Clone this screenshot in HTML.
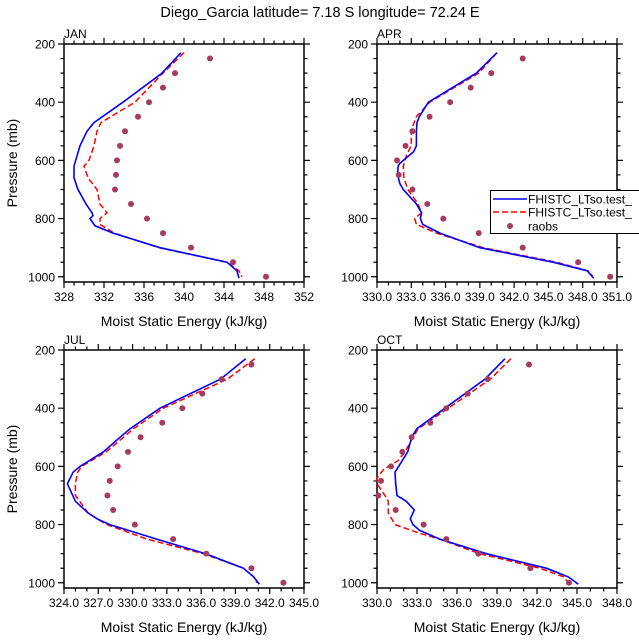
<!DOCTYPE html>
<html><head><meta charset="utf-8"><style>
body{margin:0;background:#fff}
svg text{font-family:"Liberation Sans",Arial,sans-serif;fill:#000}
</style></head><body>
<svg id="c" width="639" height="639" viewBox="0 0 639 639">
<text x="320" y="17" text-anchor="middle" font-size="14.5">Diego_Garcia  latitude= 7.18 S longitude= 72.24 E</text>
</svg>
<script>
const months = ["JAN","APR","JUL","OCT"];
const xMin = [328,330,324,330];
const xMax = [352,351,345,348];
const xStep = [4,3,3,3];
const xDec = [0,1,1,1];
const pTicks = [200,400,600,800,1000];
// model 1 (blue)
const bluePJan=[230,300,400,470,500,550,620,660,700,750,780,790,800,825,850,900,950,980,1005];
const blueVJan=[339.7,337.8,333.9,331.0,330.3,329.6,329.0,329.0,329.4,330.2,330.8,330.9,330.6,331.1,332.9,337.6,344.3,345.3,345.5];
const redPJan=[230,300,400,470,500,550,600,620,660,700,750,780,800,820,850,900,950,980,1000];
const redVJan=[340.0,337.9,335.1,331.7,331.3,331.0,330.5,330.0,330.4,331.3,331.6,332.3,331.6,331.6,333.0,337.5,344.3,345.5,345.8];
const obsPJan=[250,300,350,400,450,500,550,600,650,700,750,800,850,900,950,1000];
const obsVJan=[342.6,339.1,337.9,336.5,335.4,334.1,333.6,333.3,333.2,333.1,334.7,336.3,337.9,340.7,344.9,348.2];
const bluePApr=[230,300,400,450,470,500,550,570,610,620,650,680,700,750,780,800,820,850,900,950,980,1005];
const blueVApr=[340.5,338.7,334.5,333.7,333.5,333.45,333.45,333.2,332.0,331.85,331.8,332.0,332.3,333.45,333.9,333.8,334.0,335.5,339.0,345.4,348.4,348.95];
const redPApr=[230,300,400,450,480,500,550,580,620,660,700,750,780,790,800,820,850,900,950,980,1000];
const redVApr=[340.5,338.9,334.6,333.45,333.15,333.0,333.0,332.6,332.3,332.35,332.7,333.6,333.9,333.6,333.3,333.45,335.2,339.3,345.7,348.5,348.9];
const obsPApr=[250,300,350,400,450,500,550,600,650,700,750,800,850,900,950,1000];
const obsVApr=[342.75,340.0,338.2,336.4,334.6,333.1,332.5,331.75,331.9,333.1,334.4,335.8,338.9,342.75,347.6,350.4];
const bluePJul=[230,300,400,470,500,550,600,620,660,720,760,780,800,850,900,950,980,1005];
const blueVJul=[339.9,337.7,332.4,329.8,328.9,327.45,325.4,324.8,324.3,325.0,326.1,326.9,328.0,332.1,336.4,339.7,340.6,341.1];
const redPJul=[230,300,400,470,500,550,600,620,660,700,730,760,780,800,850,900,950,980,1000];
const redVJul=[340.7,338.3,332.7,330.1,329.2,327.7,325.55,325.2,325.0,325.0,325.55,326.1,326.9,327.75,331.25,336.2,339.7,340.6,340.9];
const obsPJul=[250,300,350,400,450,500,550,600,650,700,750,800,850,900,950,1000];
const obsVJul=[340.4,337.8,336.1,334.35,332.6,330.7,329.6,328.7,328.0,327.8,328.3,330.2,333.55,336.45,340.4,343.2];
const bluePOct=[230,300,400,470,500,550,580,620,660,700,720,750,780,800,820,850,900,950,980,1005];
const blueVOct=[339.6,338.1,335.1,333.0,332.6,332.3,331.9,331.35,331.4,331.5,332.2,332.8,332.5,332.7,333.2,334.7,338.2,342.7,344.35,345.1];
const redPOct=[230,300,400,470,500,550,580,610,640,660,700,720,760,800,830,850,900,950,980,1000];
const redVOct=[340.05,338.5,335.35,333.1,332.7,332.1,331.6,330.5,330.0,330.0,330.6,330.85,330.85,331.35,333.2,334.7,337.7,342.2,344.0,344.35];
const obsPOct=[250,300,350,400,450,500,550,600,650,700,750,800,850,900,950,1000];
const obsVOct=[341.4,338.3,336.8,335.2,334.0,332.6,331.9,331.05,330.3,330.1,331.4,333.5,335.2,337.6,341.5,344.4];

const blueP=[bluePJan,bluePApr,bluePJul,bluePOct], blueV=[blueVJan,blueVApr,blueVJul,blueVOct];
const redP=[redPJan,redPApr,redPJul,redPOct], redV=[redVJan,redVApr,redVJul,redVOct];
const obsP=[obsPJan,obsPApr,obsPJul,obsPOct], obsV=[obsVJan,obsVApr,obsVJul,obsVOct];

const NS="http://www.w3.org/2000/svg";
const svg=document.getElementById('c');
function mk(t,a,parent){const e=document.createElementNS(NS,t);for(const k in a)e.setAttribute(k,a[k]);(parent||svg).appendChild(e);return e;}
const L=[64,377,64,377], T=[44,44,350,350], W=240, H=238, PMIN=200, PMAX=1018;

for(let i=0;i<4;i++){
  const g=mk('g',{});
  
  
  const x=v=>L[i]+(v-xMin[i])/(xMax[i]-xMin[i])*W;
  const y=p=>T[i]+(p-PMIN)/(PMAX-PMIN)*H;
  const bot=T[i]+H, right=L[i]+W;
  // ticks
  let d='';
  for(let v=xMin[i];v<=xMax[i]+1e-6;v+=1){
    const maj=Math.abs((v-xMin[i])/xStep[i]-Math.round((v-xMin[i])/xStep[i]))<1e-6;
    const len=maj?6:3.5; const xx=x(v);
    d+=`M${xx},${bot}v${len}M${xx},${T[i]}v${-len}`;
  }
  for(let p=200;p<=1000;p+=50){
    const len=p%200==0?6:3.5; const yy=y(p);
    d+=`M${L[i]},${yy}h${-len}M${right},${yy}h${len}`;
  }
  const tk=mk('path',{d:d,stroke:'#000','stroke-width':1.2,fill:'none'},g);
  
  
  const fr=mk('rect',{x:L[i],y:T[i],width:W,height:H,fill:'none',stroke:'#000','stroke-width':1.5},g);
  
  
  for(let v=xMin[i];v<=xMax[i]+1e-6;v+=xStep[i]){
    const t=mk('text',{x:x(v),y:bot+19,'text-anchor':'middle','font-size':12},g);
    t.textContent=v.toFixed(xDec[i]);
    
    
  }
  for(const p of pTicks){
    const t=mk('text',{x:L[i]-9,y:y(p)+4.5,'text-anchor':'end','font-size':12},g);
    t.textContent=p;
    
    
  }
  const xt=mk('text',{x:L[i]+W/2,y:bot+44,'text-anchor':'middle','font-size':14},g);
  xt.textContent='Moist Static Energy (kJ/kg)';
  
  
  if(i%2==0){
    const yt=mk('text',{x:0,y:0,'text-anchor':'middle','font-size':14,transform:`translate(17,${T[i]+H/2}) rotate(-90)`},g);
    yt.textContent='Pressure (mb)';
    
    
  }
  const mt=mk('text',{x:L[i],y:T[i]-6,'font-size':12},g);
  mt.textContent=months[i];
  
  
  const pts=(P,V)=>P.map((p,k)=>x(V[k]).toFixed(1)+','+y(p).toFixed(1)).join(' ');
  const r=mk('polyline',{points:pts(redP[i],redV[i]),fill:'none',stroke:'#ff0000','stroke-width':1.5,'stroke-dasharray':'6,3'},g);
  
  
  const b=mk('polyline',{points:pts(blueP[i],blueV[i]),fill:'none',stroke:'#0000ff','stroke-width':1.6},g);
  
  
  obsP[i].forEach((p,k)=>{
    const c=mk('circle',{cx:x(obsV[i][k]),cy:y(p),r:3,fill:'#a63a60'},g);
    
    
  });
}
// legend
const lg=mk('g',{});


mk('rect',{x:490.5,y:190.5,width:160,height:43,fill:'#fff',stroke:'#000','stroke-width':1},lg);
const names=['FHISTC_LTso.test_','FHISTC_LTso.test_','raobs'];
const ys=[199,212,226];
const l1=mk('line',{x1:493,y1:ys[0],x2:527,y2:ys[0],stroke:'#0000ff','stroke-width':1.6},lg);


const l2=mk('line',{x1:493,y1:ys[1],x2:527,y2:ys[1],stroke:'#ff0000','stroke-width':1.5,'stroke-dasharray':'6,3'},lg);


const l3=mk('circle',{cx:510,cy:ys[2],r:3,fill:'#a63a60'},lg);


names.forEach((n,k)=>{
  const t=mk('text',{x:528,y:ys[k]+4.5,'font-size':12},lg);
  t.textContent=n;
  
  
});
</script>
</body></html>
